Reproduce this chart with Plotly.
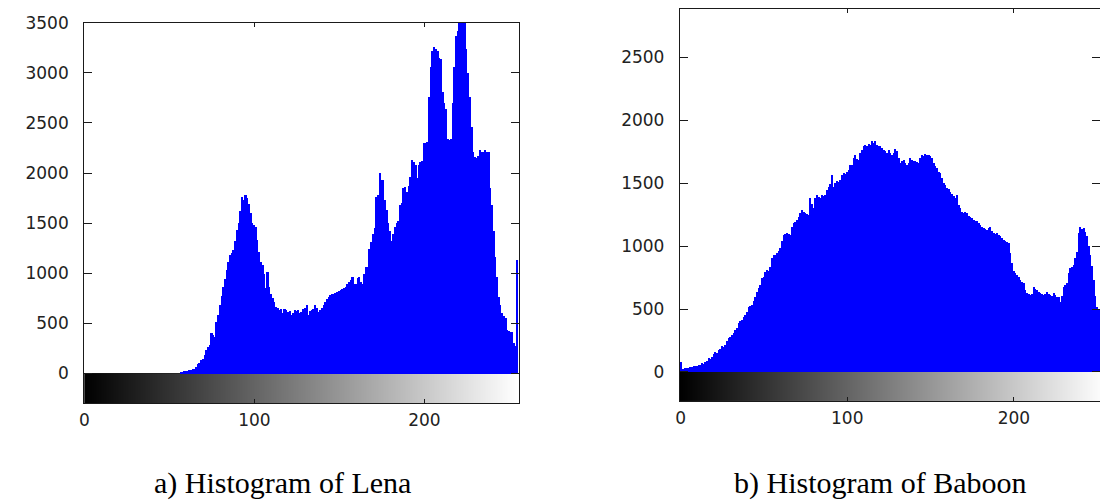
import plotly.graph_objects as go

# ---------------- data ----------------
gray_levels = list(range(256))

lena_counts = [0] * 57 + [
    10, 20, 25, 28, 30, 35, 40, 45, 50, 70,            # 57-66
    95, 110, 140, 150, 190, 240, 265, 290, 405, 390,   # 67-76
    370, 520, 590, 690, 780, 870, 950, 1040, 1120, 1185,  # 77-86
    1210, 1235, 1330, 1435, 1500, 1620, 1765, 1730, 1780, 1750,  # 87-96
    1690, 1600, 1500, 1480, 1465, 1340, 1220, 1120, 1085, 1000,  # 97-106
    855, 1020, 870, 800, 760, 720, 670, 660, 640, 650,   # 107-116
    605, 650, 640, 620, 630, 590, 610, 640, 625, 640,    # 117-126
    610, 620, 650, 660, 690, 590, 630, 640, 650, 690,    # 127-136
    660, 620, 640, 655, 690, 720, 750, 770, 790, 800,    # 137-146
    795, 810, 820, 830, 835, 850, 860, 870, 900, 920,    # 147-156
    940, 970, 900, 900, 960, 970, 920, 900, 1000, 1070,  # 157-166
    1070, 1250, 1320, 1400, 1450, 1765, 1780, 2000, 1930, 1930,  # 167-176
    1730, 1630, 1500, 1420, 1330, 1400, 1465, 1500, 1520, 1680,  # 177-186
    1700, 1850, 1860, 1815, 1870, 1965, 2130, 2110, 2080, 1950,  # 187-196
    2080, 2115, 2120, 2300, 2300, 2310, 2760, 3060, 3225, 3260,  # 197-206
    3240, 3225, 3150, 3145, 2810, 2700, 2645, 2345, 2330, 2340,  # 207-216
    2700, 3060, 3375, 3420, 3600, 3680, 3620, 3520, 3245, 3000,  # 217-226
    2760, 2460, 2215, 2160, 2150, 2170, 2230, 2215, 2215, 2230,  # 227-236
    2215, 2215, 1850, 1680, 1420, 1170, 970, 770, 690, 605,      # 237-246
    580, 555, 440, 430, 420, 420, 305, 275, 1140                 # 247-255
]

baboon_counts = [
    80, 22, 25, 26, 30, 28, 34, 36, 45, 42,               # 0-9
    48, 55, 52, 66, 64, 80, 84, 106, 104, 119,            # 10-19
    140, 160, 150, 172, 180, 200, 198, 212, 240, 265,     # 20-29
    275, 290, 305, 330, 345, 390, 400, 410, 437, 450,     # 30-39
    477, 517, 520, 530, 560, 596, 630, 663, 690, 742,     # 40-49
    750, 790, 808, 800, 835, 900, 928, 930, 941, 960,     # 50-59
    981, 1040, 1087, 1095, 1100, 1090, 1087, 1150, 1180, 1190,  # 60-69
    1206, 1230, 1260, 1286, 1265, 1259, 1250, 1246, 1378, 1330,  # 70-79
    1299, 1380, 1405, 1390, 1378, 1400, 1395, 1405, 1440, 1471,  # 80-89
    1490, 1564, 1471, 1500, 1511, 1505, 1524, 1560, 1577, 1570,  # 90-99
    1590, 1600, 1643, 1640, 1700, 1723, 1690, 1683, 1740, 1763,  # 100-109
    1790, 1803, 1795, 1810, 1800, 1829, 1815, 1829, 1800, 1789,  # 110-119
    1795, 1776, 1760, 1750, 1735, 1763, 1740, 1720, 1736, 1765,  # 120-129
    1750, 1700, 1657, 1670, 1683, 1660, 1643, 1660, 1697, 1680,  # 130-139
    1675, 1670, 1665, 1657, 1700, 1723, 1715, 1730, 1725, 1723,  # 140-149
    1710, 1697, 1660, 1630, 1617, 1590, 1577, 1540, 1498, 1480,  # 150-159
    1458, 1450, 1431, 1410, 1392, 1380, 1405, 1325, 1300, 1270,  # 160-169
    1259, 1265, 1259, 1240, 1225, 1219, 1205, 1200, 1193, 1180,  # 170-179
    1165, 1153, 1140, 1130, 1127, 1140, 1153, 1120, 1100, 1095,  # 180-189
    1100, 1087, 1075, 1060, 1047, 1040, 1030, 1021, 940, 862,    # 190-199
    800, 782, 770, 755, 730, 710, 702, 650, 623, 615,            # 200-209
    610, 620, 676, 660, 650, 630, 623, 615, 610, 620,            # 210-219
    636, 620, 610, 605, 623, 610, 597, 590, 557, 600,            # 220-229
    676, 690, 702, 780, 822, 830, 848, 900, 954, 1100,           # 230-239
    1153, 1130, 1140, 1110, 1074, 1000, 928, 840, 729, 600,      # 240-249
    517, 495, 485, 477, 460, 450                                 # 250-255
]

lena_yticks = [0, 500, 1000, 1500, 2000, 2500, 3000, 3500]
baboon_yticks = [0, 500, 1000, 1500, 2000, 2500]
xticks = [0, 100, 200]
captions = ["a) Histogram of Lena", "b) Histogram of Baboon"]

assert len(lena_counts) == 256 and len(baboon_counts) == 256

# ---------------- layout geometry ----------------
W, H = 1100, 502
BLUE = "#0000FF"
LINE = "#1a1a1a"
TICKFONT = dict(family="DejaVu Sans", size=17, color="#222222")

lena_ymin, lena_ymax = -297, 3500
bab_ymin, bab_ymax = -233, 2881

x_edges = [g - 0.5 for g in gray_levels] + [gray_levels[-1] + 0.5]

fig = go.Figure()

# gray-level colour bars (below zero)
fig.add_trace(go.Heatmap(
    z=[gray_levels], x=x_edges, y=[lena_ymin, 0],
    colorscale=[[0, "#000000"], [1, "#ffffff"]], showscale=False,
    hoverinfo="skip", xaxis="x", yaxis="y"))
fig.add_trace(go.Heatmap(
    z=[gray_levels], x=x_edges, y=[bab_ymin, 0],
    colorscale=[[0, "#000000"], [1, "#ffffff"]], showscale=False,
    hoverinfo="skip", xaxis="x2", yaxis="y2"))

# histograms
fig.add_trace(go.Bar(x=gray_levels, y=lena_counts, width=1,
                     marker=dict(color=BLUE, line=dict(width=0)),
                     xaxis="x", yaxis="y", showlegend=False))
fig.add_trace(go.Bar(x=gray_levels, y=baboon_counts, width=1,
                     marker=dict(color=BLUE, line=dict(width=0)),
                     xaxis="x2", yaxis="y2", showlegend=False))

common_x = dict(showgrid=False, zeroline=False, showline=True, linecolor=LINE,
                linewidth=1.3, mirror="ticks", ticks="inside", ticklen=4,
                tickcolor=LINE, tickfont=TICKFONT, tickvals=xticks,
                layer="above traces", ticklabelstandoff=1, automargin=False)
common_y = dict(showgrid=False, zeroline=True, zerolinecolor=LINE,
                zerolinewidth=1.3, showline=True, linecolor=LINE,
                linewidth=1.3, mirror="ticks", ticks="inside", ticklen=8,
                tickcolor=LINE, tickfont=TICKFONT, layer="above traces",
                ticklabelstandoff=11, automargin=False)

fig.update_layout(
    template="none",
    width=W, height=H, autosize=False,
    margin=dict(l=0, r=0, t=0, b=0, pad=0),
    paper_bgcolor="white", plot_bgcolor="white",
    bargap=0, showlegend=False,
    xaxis=dict(domain=[84.3 / W, 519.3 / W], range=[-0.1, 255.8],
               anchor="y", **common_x),
    yaxis=dict(domain=[1 - 403.3 / H, 1 - 22.7 / H],
               range=[lena_ymin, lena_ymax], tickvals=lena_yticks,
               anchor="x", **common_y),
    xaxis2=dict(domain=[680.0 / W, 1.0], range=[-0.4, 251.7],
                anchor="y2", **common_x),
    yaxis2=dict(domain=[1 - 401.3 / H, 1 - 9.3 / H],
                range=[bab_ymin, bab_ymax], tickvals=baboon_yticks,
                anchor="x2", **common_y),
)

for cx, txt in zip([282, 880], captions):
    fig.add_annotation(text=txt, x=cx / W, y=0, xref="paper", yref="paper",
                       xanchor="center", yanchor="bottom", showarrow=False,
                       font=dict(family="Liberation Serif", size=30,
                                 color="#000000"))

fig.write_html(
    "out.html",
    config={"displayModeBar": False, "responsive": False},
    post_script="document.body.style.margin='0';"
                "document.body.style.padding='0';"
                "document.body.style.overflow='hidden';",
)
